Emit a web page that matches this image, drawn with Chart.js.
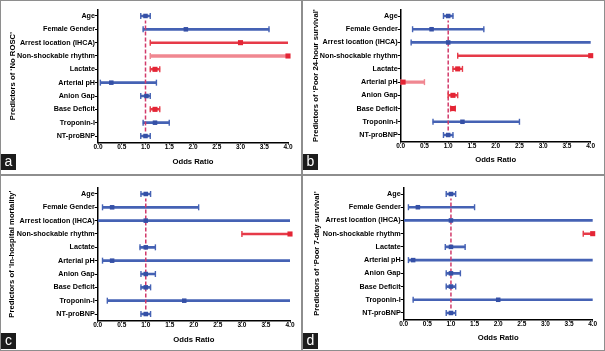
<!DOCTYPE html>
<html>
<head>
<meta charset="utf-8">
<script src="https://cdn.jsdelivr.net/npm/chart.js@4"></script>
<style>
  body { margin: 0; background: #fff; }
  .panel { position: absolute; box-sizing: border-box; border: 1px solid #8e8e8e; background: #fff; }
  .panel canvas { position: absolute; left: 0; top: 0; }
  .tag { position: absolute; left: 0; width: 15px; height: 16px; background: #1c1c1c; color: #fff;
         font: 14px 'Liberation Sans', Arial, sans-serif; line-height: 15px; text-align: center; }
</style>
</head>
<body>
<div class="panel" style="left:0;top:0;width:302px;height:175px"><canvas id="chartA"></canvas><div class="tag" style="top:153px">a</div></div>
<div class="panel" style="left:302px;top:0;width:303px;height:175px"><canvas id="chartB"></canvas><div class="tag" style="top:153px">b</div></div>
<div class="panel" style="left:0;top:175px;width:302px;height:176px"><canvas id="chartC"></canvas><div class="tag" style="top:157px">c</div></div>
<div class="panel" style="left:302px;top:175px;width:303px;height:176px"><canvas id="chartD"></canvas><div class="tag" style="top:157px">d</div></div>

<script>
const predictors = ['Age', 'Female Gender', 'Arrest location (IHCA)', 'Non-shockable rhythm', 'Lactate',
                    'Arterial pH', 'Anion Gap', 'Base Deficit', 'Troponin-I', 'NT-proBNP'];
const oddsTicks = [0, 0.5, 1, 1.5, 2, 2.5, 3, 3.5, 4];
const refOdds = 1;

// a - No ROSC  (sig: 0 = not significant, 1 = significant, 2 = significant, light)
const noRoscOR   = [1.0, 1.85, 3.0, 4.0, 1.2, 0.28, 1.02, 1.2, 1.2, 1.0];
const noRoscLow  = [0.9, 0.95, 1.1, 1.1, 1.1, 0.05, 0.9, 1.1, 0.95, 0.9];
const noRoscHigh = [1.1, 3.6, 4.0, 4.0, 1.3, 1.23, 1.1, 1.3, 1.5, 1.1];
const noRoscSig  = [0, 0, 1, 2, 1, 0, 0, 1, 0, 0];

// b - Poor 24-hour survival
const day1OR   = [1.0, 0.65, 1.0, 4.0, 1.2, 0.05, 1.1, 1.1, 1.3, 1.0];
const day1Low  = [0.9, 0.25, 0.22, 1.2, 1.1, 0.01, 1.0, 1.05, 0.68, 0.9];
const day1High = [1.1, 1.75, 4.0, 4.0, 1.3, 0.5, 1.2, 1.15, 2.5, 1.1];
const day1Sig  = [0, 0, 0, 1, 1, 2, 1, 1, 0, 0];

// c - In-hospital mortality
const mortOR   = [1.0, 0.3, 1.0, 4.0, 1.0, 0.3, 1.0, 1.0, 1.8, 1.0];
const mortLow  = [0.9, 0.1, 0.0, 3.0, 0.88, 0.1, 0.9, 0.9, 0.2, 0.9];
const mortHigh = [1.1, 2.1, 4.0, 4.0, 1.2, 4.0, 1.2, 1.1, 4.0, 1.1];
const mortSig  = [0, 0, 0, 1, 0, 0, 0, 0, 0, 0];

// d - Poor 7-day survival
const day7OR   = [1.0, 0.3, 1.0, 4.0, 1.0, 0.2, 1.0, 1.0, 2.0, 1.0];
const day7Low  = [0.9, 0.1, 0.0, 3.8, 0.88, 0.1, 0.9, 0.9, 0.2, 0.9];
const day7High = [1.1, 1.5, 4.0, 4.0, 1.3, 4.0, 1.2, 1.1, 4.0, 1.1];
const day7Sig  = [0, 0, 0, 1, 0, 0, 0, 0, 0, 0];

const FONT = "'Liberation Sans', Arial, sans-serif";
const colors = ['#4562b4', '#e63a48', '#f08791'];
const dotColor = ['#3550a6', '#e42535'];
const whiskerW = [2, 1.8, 2.8];
const dotR = [3.2, 3.6, 3.6];

function forest(id, title, or, low, high, sig, lay) {
  const canvas = document.getElementById(id);
  canvas.width = lay.w;
  canvas.height = lay.h;

  const datasets = [];
  [0, 1, 2].forEach(k => {
    datasets.push({
      type: 'bar',
      data: predictors.map((p, i) => sig[i] === k ? [low[i], high[i]] : null),
      backgroundColor: colors[k],
      barThickness: whiskerW[k],
      grouped: false,
      order: 4
    });
  });

  // caps only where the interval is not cut by the axis
  const caps = [];
  const capColors = [];
  predictors.forEach((p, i) => {
    if (low[i] > oddsTicks[0]) { caps.push({ x: low[i], y: p }); capColors.push(colors[sig[i]]); }
    if (high[i] < oddsTicks[oddsTicks.length - 1]) { caps.push({ x: high[i], y: p }); capColors.push(colors[sig[i]]); }
  });
  datasets.push({
    type: 'scatter',
    data: caps,
    pointStyle: 'line',
    pointRotation: 90,
    pointRadius: 3,
    pointBorderWidth: 1.4,
    pointBorderColor: capColors,
    clip: false,
    order: 2
  });

  const dots = sig.map(s => s ? dotColor[1] : dotColor[0]);
  datasets.push({
    type: 'scatter',
    data: predictors.map((p, i) => ({ x: or[i], y: p })),
    pointStyle: 'rect',
    pointRadius: sig.map(s => dotR[s]),
    pointBackgroundColor: dots,
    pointBorderColor: dots,
    pointBorderWidth: 0,
    clip: false,
    order: 1
  });

  datasets.push({
    type: 'line',
    data: [{ x: refOdds, y: 0 }, { x: refOdds, y: 1 }],
    yAxisID: 'yRef',
    borderColor: '#d23a6a',
    borderWidth: 1.5,
    borderDash: [4, 2],
    pointRadius: 0,
    order: 3
  });

  new Chart(canvas, {
    type: 'bar',
    data: { labels: predictors, datasets: datasets },
    options: {
      indexAxis: 'y',
      responsive: false,
      animation: false,
      layout: { padding: { left: 0, right: lay.padR, top: lay.padT, bottom: 0 } },
      plugins: { legend: { display: false }, tooltip: { enabled: false } },
      scales: {
        y: {
          type: 'category',
          labels: predictors,
          offset: true,
          grid: { drawOnChartArea: false, offset: false, tickLength: 3, color: '#000', lineWidth: 1 },
          border: { color: '#000', width: 1.5 },
          ticks: { color: '#000', autoSkip: false, padding: 0, font: { family: FONT, size: 7.2, weight: 'bold' } },
          title: { display: true, text: title, color: '#000', padding: { top: lay.yTitle, bottom: 0 },
                   font: { family: FONT, size: 7.7, weight: 'bold' } },
          afterFit: s => { s.width = lay.yw; }
        },
        yRef: { type: 'linear', axis: 'y', min: 0, max: 1, display: false },
        x: {
          type: 'linear',
          min: 0,
          max: 4,
          afterBuildTicks: a => { a.ticks = oddsTicks.map(v => ({ value: v })); },
          grid: { drawOnChartArea: false, tickLength: 2, color: '#000', lineWidth: 1 },
          border: { color: '#000', width: 1.5 },
          ticks: { color: '#000', padding: -1, maxRotation: 0, autoSkip: false,
                   font: { family: FONT, size: 6.5, weight: 'bold', lineHeight: 1 },
                   callback: v => Number(v).toFixed(1) },
          title: { display: true, text: 'Odds Ratio', color: '#000', padding: { top: 0, bottom: lay.xTitle },
                   font: { family: FONT, size: 7.7, weight: 'bold' } },
          afterFit: s => { s.height = lay.xh; }
        }
      }
    }
  });
}

forest('chartA', 'Predictors of \u2018No ROSC\u2019', noRoscOR, noRoscLow, noRoscHigh, noRoscSig,
  { w: 300, h: 173, padR: 13, padT: 8.3, yw: 97, xh: 31.3, yTitle: 6.8, xTitle: 7.4 });
forest('chartB', 'Predictors of \u2018Poor 24-hour survival\u2019', day1OR, day1Low, day1High, day1Sig,
  { w: 301, h: 173, padR: 13.3, padT: 8.4, yw: 97.7, xh: 32.4, yTitle: 8.7, xTitle: 9.4 });
forest('chartC', 'Predictors of \u2018In-hospital mortality\u2019', mortOR, mortLow, mortHigh, mortSig,
  { w: 300, h: 174, padR: 11, padT: 11.3, yw: 96.7, xh: 29.3, yTitle: 5.8, xTitle: 5.4 });
forest('chartD', 'Predictors of \u2018Poor 7-day survival\u2019', day7OR, day7Low, day7High, day7Sig,
  { w: 301, h: 174, padR: 11.3, padT: 11.4, yw: 100.7, xh: 30.4, yTitle: 9.7, xTitle: 7.4 });
</script>
</body>
</html>
